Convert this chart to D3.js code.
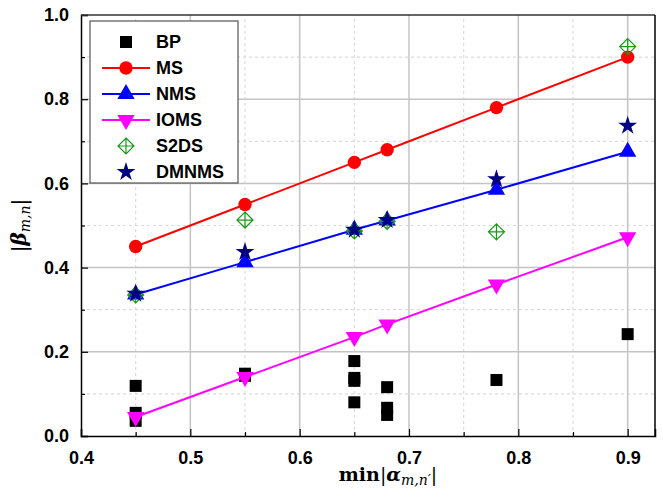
<!DOCTYPE html>
<html>
<head>
<meta charset="utf-8">
<script src="https://cdn.jsdelivr.net/npm/d3@7"></script>
<style>
  body { margin: 0; background: #fff; }
  svg { display: block; }
</style>
</head>
<body>
<div id="graph"></div>
<script>
// données
const xVals = [0.45, 0.55, 0.65, 0.68, 0.78, 0.9];
const msVals = [0.45, 0.55, 0.65, 0.68, 0.78, 0.90];
const nmsVals = [0.336, 0.413, 0.49, 0.512, 0.585, 0.675];
const iomsVals = [0.045, 0.14, 0.235, 0.265, 0.36, 0.472];
const s2dsVals = [0.335, 0.513, 0.487, 0.51, 0.485, 0.925];
const dmnmsVals = [0.338, 0.437, 0.49, 0.513, 0.61, 0.737];
// BP : plusieurs points par abscisse
const bpX = [0.45, 0.45, 0.45, 0.55, 0.55, 0.65, 0.65, 0.65, 0.65, 0.68, 0.68, 0.68, 0.78, 0.9];
const bpY = [0.119, 0.055, 0.036, 0.148, 0.143, 0.178, 0.138, 0.131, 0.08, 0.116, 0.067, 0.05, 0.133, 0.242];
const xTicks = [0.4, 0.5, 0.6, 0.7, 0.8, 0.9];
const yTicks = [0.0, 0.2, 0.4, 0.6, 0.8, 1.0];
const legendNames = ["BP", "MS", "NMS", "IOMS", "S2DS", "DMNMS"];

const width = 663, height = 488;
const margin = { top: 15, right: 8, bottom: 52, left: 81 };

const svg = d3.select("#graph").append("svg")
    .attr("width", width)
    .attr("height", height);

const x = d3.scaleLinear()
    .domain([0.4, 0.925])
    .range([margin.left, width - margin.right]);

const y = d3.scaleLinear()
    .domain([0, 1])
    .range([height - margin.bottom, margin.top]);

const x0 = x.range()[0], x1 = x.range()[1];
const y0 = y.range()[0], y1 = y.range()[1];

// Grille
const minorX = d3.range(0.45, 0.91, 0.1);
const minorY = d3.range(0.1, 0.95, 0.2);
const majorX = xTicks.slice(1);
const majorY = yTicks.slice(1, -1);

const grid = svg.append("g");
grid.selectAll(".mx").data(minorX).enter().append("line")
    .attr("x1", d => x(d)).attr("x2", d => x(d))
    .attr("y1", y0).attr("y2", y1)
    .attr("stroke", "#dcdcdc").attr("stroke-width", 1.2).attr("stroke-dasharray", "3,3");
grid.selectAll(".my").data(minorY).enter().append("line")
    .attr("x1", x0).attr("x2", x1)
    .attr("y1", d => y(d)).attr("y2", d => y(d))
    .attr("stroke", "#dcdcdc").attr("stroke-width", 1.2).attr("stroke-dasharray", "3,3");
grid.selectAll(".Mx").data(majorX).enter().append("line")
    .attr("x1", d => x(d)).attr("x2", d => x(d))
    .attr("y1", y0).attr("y2", y1)
    .attr("stroke", "#c4c4c4").attr("stroke-width", 1.5);
grid.selectAll(".My").data(majorY).enter().append("line")
    .attr("x1", x0).attr("x2", x1)
    .attr("y1", d => y(d)).attr("y2", d => y(d))
    .attr("stroke", "#c4c4c4").attr("stroke-width", 1.5);

// Axes (ticks vers l'intérieur)
const xAxis = svg.append("g")
    .attr("transform", `translate(0,${y0})`)
    .call(d3.axisBottom(x).tickValues(xTicks).tickSize(-7).tickPadding(12).tickFormat(d3.format(".1f")));
svg.append("g")
    .attr("transform", `translate(0,${y0})`)
    .call(d3.axisBottom(x).tickValues(minorX).tickSize(-4).tickFormat(""))
    .select(".domain").remove();

const yAxis = svg.append("g")
    .attr("transform", `translate(${x0},0)`)
    .call(d3.axisLeft(y).tickValues(yTicks).tickSize(-7).tickPadding(12).tickFormat(d3.format(".1f")));
svg.append("g")
    .attr("transform", `translate(${x0},0)`)
    .call(d3.axisLeft(y).tickValues(minorY).tickSize(-4).tickFormat(""))
    .select(".domain").remove();

svg.selectAll(".domain").attr("stroke", "#000").attr("stroke-width", 1.5);
svg.selectAll(".tick line").attr("stroke", "#000").attr("stroke-width", 1.2);
svg.selectAll(".tick text")
    .attr("font-family", "Liberation Sans, Arial, sans-serif")
    .attr("font-weight", "bold")
    .attr("font-size", "18px")
    .attr("fill", "#000");
xAxis.selectAll(".tick text").attr("dy", "0.9em");

// cadre haut / droite
svg.append("line").attr("x1", x0).attr("x2", x1).attr("y1", y1).attr("y2", y1)
    .attr("stroke", "#333").attr("stroke-width", 1.5);
svg.append("line").attr("x1", x1).attr("x2", x1).attr("y1", y1).attr("y2", y0)
    .attr("stroke", "#000").attr("stroke-width", 1.5);

// Symboles
const sym = {
    square: d3.symbol().type(d3.symbolSquare).size(144)(),
    circle: d3.symbol().type(d3.symbolCircle).size(140)(),
    tri: d3.symbol().type(d3.symbolTriangle).size(130)(),
    star: d3.symbol().type(d3.symbolStar).size(110)()
};
const diamondPath = "M0,-8L8,0L0,8L-8,0Z M0,-8L0,8 M-8,0L8,0";

function zip(xs, ys) { return xs.map((v, i) => ({ x: v, y: ys[i] })); }

const lineGen = d3.line().x(d => x(d.x)).y(d => y(d.y));

// BP
svg.append("g").selectAll("path").data(zip(bpX, bpY)).enter().append("path")
    .attr("d", sym.square)
    .attr("transform", d => `translate(${x(d.x)},${y(d.y)})`)
    .attr("fill", "#000");

function series(vals, color, shape, rot) {
    const data = zip(xVals, vals);
    svg.append("path").datum(data)
        .attr("d", lineGen)
        .attr("fill", "none")
        .attr("stroke", color)
        .attr("stroke-width", 2);
    svg.append("g").selectAll("path").data(data).enter().append("path")
        .attr("d", shape)
        .attr("transform", d => `translate(${x(d.x)},${y(d.y)}) rotate(${rot || 0})`)
        .attr("fill", color);
}

series(msVals, "#ff0000", sym.circle);
series(nmsVals, "#0000ff", sym.tri);
series(iomsVals, "#ff00ff", sym.tri, 180);

// S2DS : losange creux avec croix
svg.append("g").selectAll("path").data(zip(xVals, s2dsVals)).enter().append("path")
    .attr("d", diamondPath)
    .attr("transform", d => `translate(${x(d.x)},${y(d.y)})`)
    .attr("fill", "none")
    .attr("stroke", "#1a9a1a")
    .attr("stroke-width", 1.2);

// DMNMS
svg.append("g").selectAll("path").data(zip(xVals, dmnmsVals)).enter().append("path")
    .attr("d", sym.star)
    .attr("transform", d => `translate(${x(d.x)},${y(d.y)})`)
    .attr("fill", "#000080");

// Légende
const legend = svg.append("g");
legend.append("rect")
    .attr("x", 90).attr("y", 21)
    .attr("width", 148).attr("height", 162)
    .attr("fill", "#fff")
    .attr("stroke", "#555")
    .attr("stroke-width", 1.2);

const legendItems = [
    { name: legendNames[0], color: "#000", shape: sym.square, line: false },
    { name: legendNames[1], color: "#ff0000", shape: sym.circle, line: true },
    { name: legendNames[2], color: "#0000ff", shape: sym.tri, line: true },
    { name: legendNames[3], color: "#ff00ff", shape: sym.tri, rot: 180, line: true },
    { name: legendNames[4], color: "#1a9a1a", shape: diamondPath, hollow: true },
    { name: legendNames[5], color: "#000080", shape: sym.star }
];

legendItems.forEach((it, i) => {
    const ly = 42 + i * 26;
    if (it.line) {
        legend.append("line")
            .attr("x1", 102).attr("x2", 150)
            .attr("y1", ly).attr("y2", ly)
            .attr("stroke", it.color).attr("stroke-width", 2);
    }
    const p = legend.append("path")
        .attr("d", it.shape)
        .attr("transform", `translate(126,${ly}) rotate(${it.rot || 0})`);
    if (it.hollow) p.attr("fill", "none").attr("stroke", it.color).attr("stroke-width", 1.2);
    else p.attr("fill", it.color);
    legend.append("text")
        .attr("x", 156).attr("y", ly)
        .attr("dy", "0.36em")
        .attr("font-family", "Liberation Sans, Arial, sans-serif")
        .attr("font-weight", "bold")
        .attr("font-size", "18px")
        .text(it.name);
});

// Titres d'axes
const yTitle = svg.append("text")
    .attr("transform", `translate(26,${(y0 + y1) / 2}) rotate(-90)`)
    .attr("text-anchor", "middle")
    .attr("font-family", "DejaVu Serif, Liberation Serif, serif")
    .attr("font-size", "20px");
yTitle.append("tspan").text("|");
yTitle.append("tspan").attr("font-weight", "bold").attr("font-style", "italic").text("β");
yTitle.append("tspan").attr("font-style", "italic").attr("font-size", "14px").attr("dy", "4").text("m,n");
yTitle.append("tspan").attr("dy", "-4").text("|");

const xTitle = svg.append("text")
    .attr("x", 388).attr("y", 481)
    .attr("text-anchor", "middle")
    .attr("font-family", "DejaVu Serif, Liberation Serif, serif")
    .attr("font-size", "19px");
xTitle.append("tspan").attr("font-weight", "bold").text("min");
xTitle.append("tspan").text("|");
xTitle.append("tspan").attr("font-weight", "bold").attr("font-style", "italic").text("α");
xTitle.append("tspan").attr("font-style", "italic").attr("font-size", "14px").attr("dy", "4").text("m,n′");
xTitle.append("tspan").attr("dy", "-4").text("|");
</script>
</body>
</html>
